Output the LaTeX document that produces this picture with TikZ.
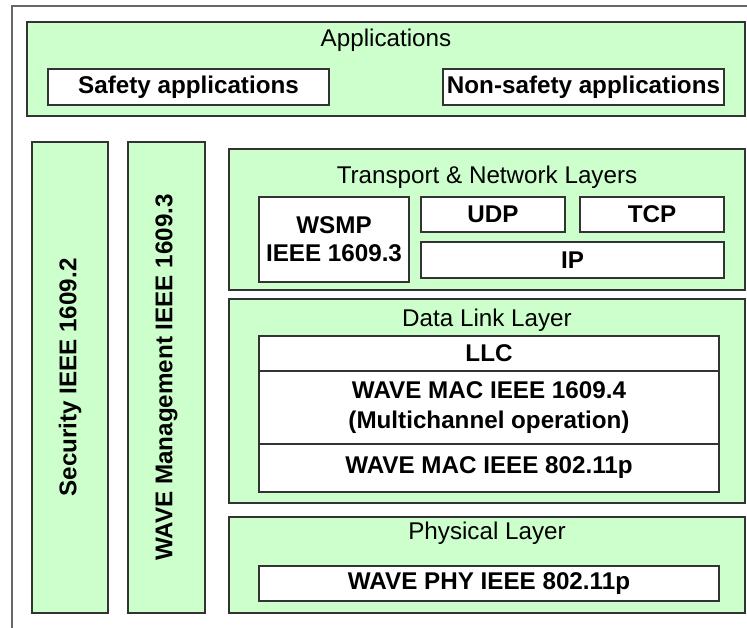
\documentclass[tikz,border=0pt]{standalone}
\usepackage{fontspec}
\setmainfont{Liberation Sans}
\definecolor{lgreen}{HTML}{CCFFCC}
\definecolor{edge}{HTML}{333333}
\begin{document}
\begin{tikzpicture}[x=1bp,y=-1bp,
  base/.style={draw=edge, line width=1.1bp, inner sep=0pt, outer sep=0pt, align=center,
     font=\fontsize{24.3}{28}\selectfont\bfseries},
  greenbox/.style={base, fill=lgreen},
  whitebox/.style={base, fill=white},
  title/.style={inner sep=0pt, font=\fontsize{24.3}{28}\selectfont},
  vtext/.style={inner sep=0pt, rotate=90, font=\fontsize{24.3}{28}\selectfont\bfseries}
]
\useasboundingbox (0,0) rectangle (747,628);
\fill[white] (0,0) rectangle (747,628);
\draw[gray!80!black, line width=1.2bp] (12,640) -- (12,6) -- (760,6);

% Applications
\node[greenbox, minimum width=718bp, minimum height=94bp] (apps) at (386,69) {};
\node[title] (appsT) at (386,40) {Applications};
\node[whitebox, minimum width=281bp, minimum height=36bp] (safety) at (188.5,87) {Safety applications};
\node[whitebox, minimum width=281bp, minimum height=36bp] (nonsafety) at (583.5,87) {Non-safety applications};

% Vertical columns
\node[greenbox, minimum width=76bp, minimum height=471bp] (sec) at (70,377.5) {};
\node[vtext] (secT) at (sec.center) {Security IEEE 1609.2};
\node[greenbox, minimum width=77bp, minimum height=471bp] (mgmt) at (166.5,377.5) {};
\node[vtext] (mgmtT) at (mgmt.center) {WAVE Management IEEE 1609.3};

% Transport & Network
\node[greenbox, minimum width=516bp, minimum height=141bp] (trans) at (487,219.5) {};
\node[title] (transT) at (487,177) {Transport \& Network Layers};
\node[whitebox, minimum width=150bp, minimum height=85bp] (wsmp) at (334,239.5) {WSMP\\IEEE 1609.3};
\node[whitebox, minimum width=144bp, minimum height=35bp] (udp) at (493,214.5) {UDP};
\node[whitebox, minimum width=144bp, minimum height=35bp] (tcp) at (652,214.5) {TCP};
\node[whitebox, minimum width=303bp, minimum height=36bp] (ip) at (572.5,260) {IP};

% Data Link
\node[greenbox, minimum width=516bp, minimum height=204bp] (dll) at (487,401) {};
\node[title] (dllT) at (487,320) {Data Link Layer};
\node[whitebox, minimum width=460bp, minimum height=35bp] (llc) at (489,353.5) {LLC};
\node[whitebox, minimum width=460bp, minimum height=73bp] (mac4) at (489,407.5) {WAVE MAC IEEE 1609.4\\[2bp](Multichannel operation)};
\node[whitebox, minimum width=460bp, minimum height=48bp] (macp) at (489,468) {WAVE MAC IEEE 802.11p};

% Physical
\node[greenbox, minimum width=516bp, minimum height=96bp] (phys) at (487,565) {};
\node[title] (physT) at (487,533) {Physical Layer};
\node[whitebox, minimum width=460bp, minimum height=35bp] (phy) at (489,583.5) {WAVE PHY IEEE 802.11p};
\end{tikzpicture}
\end{document}
